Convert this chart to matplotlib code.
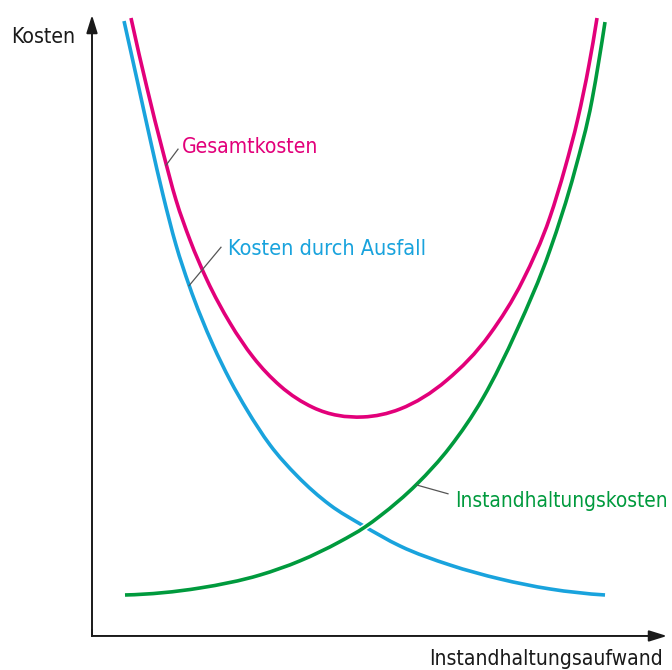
import numpy as np
import matplotlib
matplotlib.use("Agg")
import matplotlib.pyplot as plt
from matplotlib.path import Path
from matplotlib.patches import PathPatch, FancyArrowPatch
from matplotlib import font_manager as fm
import matplotlib.patheffects as pe

# ---- data (arbitrary units 0..100) ----
ausfall_x = [5.57, 8.00, 10.26, 12.35, 14.61, 16.87, 21.04, 24.00, 26.96, 30.96, 35.65, 41.39,
             46.96, 53.57, 62.26, 70.96, 79.65, 89.22]
ausfall_y = [99.03, 88.89, 79.39, 71.01, 62.96, 56.52, 46.86, 41.22, 36.39, 30.76, 25.80, 21.10,
             17.87, 14.49, 11.43, 9.18, 7.57, 6.60]

gesamt_x = [6.78, 9.57, 12.35, 14.61, 17.04, 20.00, 24.00, 28.00, 32.70, 38.43, 47.13, 53.57,
            61.74, 69.22, 74.96, 79.65, 82.26, 84.52, 86.43, 87.83]
gesamt_y = [99.52, 88.24, 77.94, 70.21, 63.77, 57.33, 50.40, 44.93, 40.30, 36.80, 35.27, 36.55,
            41.22, 48.63, 57.33, 67.47, 75.36, 83.41, 91.95, 99.52]

instand_x = [5.74, 18.78, 29.22, 36.17, 43.13, 47.48, 50.09, 56.52, 62.26, 68.00, 73.91, 79.65,
             84.00, 86.96, 88.17, 89.22]
instand_y = [6.60, 7.73, 9.82, 12.10, 15.20, 17.55, 19.32, 24.48, 30.43, 38.33, 49.28, 62.16,
             75.04, 86.31, 92.75, 98.87]

labels = ["Gesamtkosten", "Kosten durch Ausfall", "Instandhaltungskosten"]
x_label = "Instandhaltungsaufwand"
y_label = "Kosten"

BLUE = "#19a3dd"
PINK = "#e2007a"
GREEN = "#009a3d"
DARK = "#1a1a1a"


def pick_font():
    prefs = ["LiberationSansNarrow-Regular", "LiberationSansNarrow",
             "DejaVuSansCondensed.ttf", "Condensed", "Narrow"]
    files = fm.findSystemFonts() + [f.fname for f in fm.fontManager.ttflist]
    for key in prefs:
        for f in files:
            name = f.split("/")[-1]
            if key in name and "Bold" not in name and "Oblique" not in name and "Italic" not in name:
                return fm.FontProperties(fname=f)
    return fm.FontProperties(family="DejaVu Sans")


FP = pick_font()


def smooth_path(xs, ys):
    """Smooth cubic (3-point derivative Hermite) through the points, as a Bezier path."""
    x = np.asarray(xs, float)
    y = np.asarray(ys, float)
    h = np.diff(x)
    d = np.diff(y) / h
    n = len(x)
    m = np.zeros(n)
    for k in range(1, n - 1):
        m[k] = (h[k] * d[k - 1] + h[k - 1] * d[k]) / (h[k - 1] + h[k])
    m[0] = ((2 * h[0] + h[1]) * d[0] - h[0] * d[1]) / (h[0] + h[1])
    m[-1] = ((2 * h[-1] + h[-2]) * d[-1] - h[-1] * d[-2]) / (h[-1] + h[-2])
    verts = [(x[0], y[0])]
    codes = [Path.MOVETO]
    for i in range(n - 1):
        verts += [(x[i] + h[i] / 3, y[i] + m[i] * h[i] / 3),
                  (x[i + 1] - h[i] / 3, y[i + 1] - m[i + 1] * h[i] / 3),
                  (x[i + 1], y[i + 1])]
        codes += [Path.CURVE4] * 3
    return Path(verts, codes)


fig = plt.figure(figsize=(6.72, 6.70), dpi=100)
ax = fig.add_axes([0, 0, 1, 1])
ax.set_xlim(-16.0, 100.87)
ax.set_ylim(-5.48, 102.42)
ax.axis("off")

# axes with arrows
arrow_kw = dict(arrowstyle="-|>,head_length=0.9,head_width=0.28", mutation_scale=12,
                lw=1.4, color=DARK, shrinkA=0, shrinkB=0)
ax.add_patch(FancyArrowPatch((0, 0), (0, 100), **arrow_kw))
ax.add_patch(FancyArrowPatch((0, 0), (100, 0), **arrow_kw))
ax.plot([0, 0], [0, 1], color=DARK, lw=1.4, solid_capstyle="projecting")

lw = 2.6
ax.add_patch(PathPatch(smooth_path(ausfall_x, ausfall_y), fill=False, ec=BLUE, lw=lw, capstyle="butt"))
ax.add_patch(PathPatch(smooth_path(gesamt_x, gesamt_y), fill=False, ec=PINK, lw=lw, capstyle="butt"))
ax.add_patch(PathPatch(smooth_path(instand_x, instand_y), fill=False, ec=GREEN, lw=lw, capstyle="butt",
                       path_effects=[pe.Stroke(linewidth=lw + 2.2, foreground="white"), pe.Normal()]))

# leader lines
lead = dict(color="#555555", lw=0.9)
ax.plot([12.87, 14.96], [75.8, 78.4], **lead)
ax.plot([16.87, 22.43], [56.4, 62.6], **lead)
ax.plot([56.52, 61.91], [24.3, 22.9], **lead)

# texts, sized so their widths match the reference
renderer = fig.canvas.get_renderer()


def fit_text(x, y, s, color, width_px, ha="left", base=18):
    t = ax.text(x, y, s, color=color, fontproperties=FP, fontsize=base, ha=ha, va="baseline")
    w = t.get_window_extent(renderer).width
    size = base * width_px / w
    t.set_fontsize(min(size, 19))
    return t


fit_text(15.65, 77.8, labels[0], PINK, 136)
fit_text(23.65, 61.35, labels[1], BLUE, 198)
fit_text(63.13, 20.77, labels[2], GREEN, 212)
fit_text(-14.09, 95.5, y_label, DARK, 64)
fit_text(99.3, -4.67, x_label, DARK, 232, ha="right")

fig.savefig("out.png", dpi=100, facecolor="white")
